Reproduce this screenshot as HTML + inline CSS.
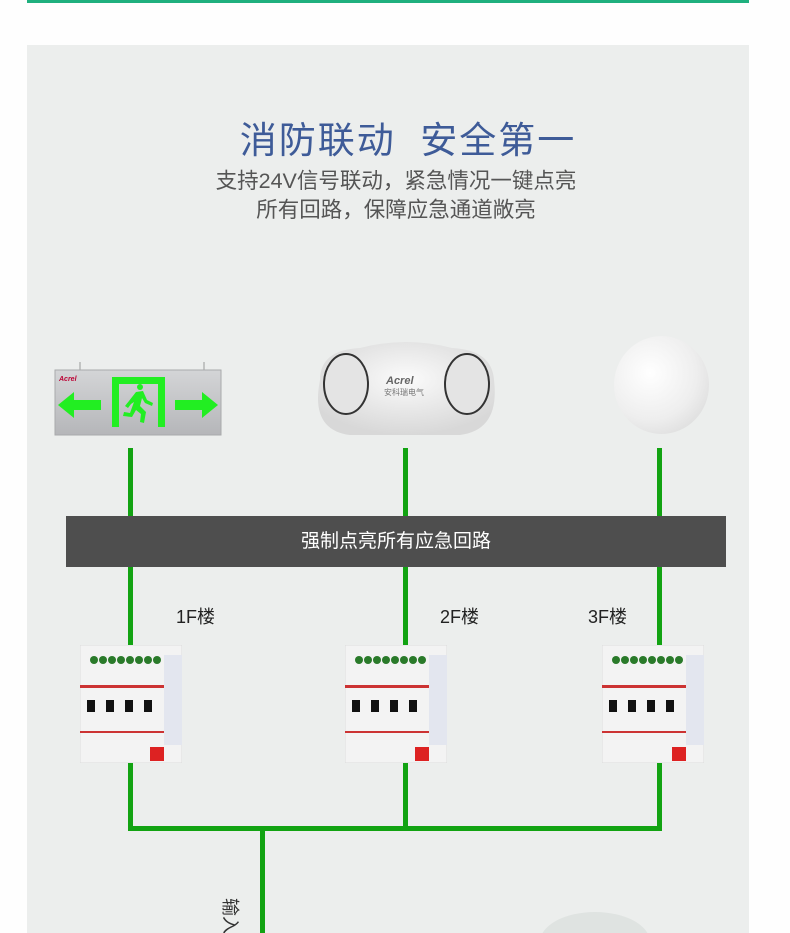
<!DOCTYPE html>
<html><head><meta charset="utf-8"><style>
*{margin:0;padding:0;box-sizing:border-box}
html,body{width:790px;height:933px;overflow:hidden}
body{background:#fefefe;position:relative;font-family:"Liberation Sans","Noto Sans CJK SC",sans-serif}
.a{position:absolute}
.g{position:absolute;background:#12a312}
.dev{position:absolute;width:102px;height:118px}
.lbl{position:absolute;font-size:18px;color:#222}
</style></head><body>
<div class="a" style="left:27px;top:0;width:722px;height:3px;background:#1fb07e"></div>
<div class="a" style="left:27px;top:45px;width:722px;height:888px;background:#eceeed"></div>
<div class="a" style="left:0;top:110px;width:816px;text-align:center;font-size:37px;color:#3e5b98;letter-spacing:2px;white-space:pre">消防联动  安全第一</div>
<div class="a" style="left:0;top:167px;width:792px;text-align:center;font-size:21.5px;color:#555;line-height:29px">支持24V信号联动，紧急情况一键点亮<br>所有回路，保障应急通道敞亮</div>

<!-- exit sign -->
<svg class="a" style="left:54px;top:360px" width="170" height="78">
<line x1="26" y1="2" x2="26" y2="10" stroke="#999"/><line x1="150" y1="2" x2="150" y2="10" stroke="#999"/>
<defs><linearGradient id="sg" x1="0" y1="0" x2="0" y2="1"><stop offset="0" stop-color="#d4d5d7"/><stop offset="1" stop-color="#b5b6b9"/></linearGradient></defs>
<rect x="1" y="10" width="166" height="65" fill="url(#sg)" stroke="#a9aaac"/>
<text x="5" y="21" font-size="7" fill="#b03" font-style="italic" font-weight="bold" font-family="Liberation Sans">Acrel</text>
<path d="M58 17 H111 V67 H104 V24 H65 V67 H58 Z" fill="#22ee22"/>
<circle cx="86" cy="27" r="3" fill="#22ee22"/>
<path d="M82 32 L89 31 L93 40 L99 43 L98 46 L91 43 L88 38 L86 46 L92 52 L90 63 L86 62 L87 54 L82 50 L78 57 L69 56 L70 52 L76 53 L80 42 L77 44 L74 48 L71 46 Z" fill="#22ee22"/>
<path d="M4 45 L20 32 V40 H47 V50 H20 V58 Z" fill="#22ee22"/>
<path d="M164 45 L148 32 V40 H121 V50 H148 V58 Z" fill="#22ee22"/>
</svg>

<!-- twin lamp -->
<svg class="a" style="left:310px;top:340px" width="192" height="100">
<defs><radialGradient id="lg" cx="0.5" cy="0.4" r="0.6"><stop offset="0" stop-color="#fbfbfb"/><stop offset="1" stop-color="#d8d8d8"/></radialGradient></defs>
<path d="M10 40 Q10 10 50 8 Q96 -4 142 8 Q182 10 184 40 Q190 90 150 95 H40 Q0 90 10 40 Z" fill="url(#lg)"/>
<ellipse cx="36" cy="44" rx="22" ry="30" fill="#e4e4e4" stroke="#333" stroke-width="2"/>
<ellipse cx="157" cy="44" rx="22" ry="30" fill="#e4e4e4" stroke="#333" stroke-width="2"/>
<text x="76" y="44" font-size="11" fill="#666" font-style="italic" font-weight="bold" font-family="Liberation Sans">Acrel</text>
<text x="74" y="55" font-size="8" fill="#777" font-family="Noto Sans CJK SC">安科瑞电气</text>
</svg>

<!-- dome -->
<div class="a" style="left:614px;top:336px;width:95px;height:98px;border-radius:50%;background:radial-gradient(circle at 38% 38%,#fff,#eee 55%,#d2d2d2)"></div>

<!-- green lines -->
<div class="g" style="left:128px;top:448px;width:5px;height:68px"></div>
<div class="g" style="left:403px;top:448px;width:5px;height:68px"></div>
<div class="g" style="left:657px;top:448px;width:5px;height:68px"></div>
<div class="a" style="left:66px;top:516px;width:660px;height:51px;background:#4e4e4e;color:#fff;font-size:19px;text-align:center;line-height:51px">强制点亮所有应急回路</div>
<div class="g" style="left:128px;top:567px;width:5px;height:80px"></div>
<div class="g" style="left:403px;top:567px;width:5px;height:80px"></div>
<div class="g" style="left:657px;top:567px;width:5px;height:80px"></div>
<div class="lbl" style="left:176px;top:603px">1F楼</div>
<div class="lbl" style="left:440px;top:603px">2F楼</div>
<div class="lbl" style="left:588px;top:603px">3F楼</div>

<!-- devices -->
<div class="dev" style="left:80px;top:645px">
<svg width="102" height="118"><rect x="0" y="0" width="102" height="118" fill="#f3f3f3" stroke="#ddd"/><rect x="84" y="10" width="18" height="90" fill="#e3e6ef"/>
<g fill="#2a7a2a"><circle cx="14" cy="15" r="4"/><circle cx="23" cy="15" r="4"/><circle cx="32" cy="15" r="4"/><circle cx="41" cy="15" r="4"/><circle cx="50" cy="15" r="4"/><circle cx="59" cy="15" r="4"/><circle cx="68" cy="15" r="4"/><circle cx="77" cy="15" r="4"/></g>
<rect x="0" y="40" width="84" height="3" fill="#c33"/><g fill="#111"><rect x="7" y="55" width="8" height="12"/><rect x="26" y="55" width="8" height="12"/><rect x="45" y="55" width="8" height="12"/><rect x="64" y="55" width="8" height="12"/></g>
<rect x="0" y="86" width="84" height="2" fill="#c33"/><rect x="70" y="102" width="14" height="14" fill="#d22"/></svg></div>
<div class="dev" style="left:345px;top:645px">
<svg width="102" height="118"><rect x="0" y="0" width="102" height="118" fill="#f3f3f3" stroke="#ddd"/><rect x="84" y="10" width="18" height="90" fill="#e3e6ef"/>
<g fill="#2a7a2a"><circle cx="14" cy="15" r="4"/><circle cx="23" cy="15" r="4"/><circle cx="32" cy="15" r="4"/><circle cx="41" cy="15" r="4"/><circle cx="50" cy="15" r="4"/><circle cx="59" cy="15" r="4"/><circle cx="68" cy="15" r="4"/><circle cx="77" cy="15" r="4"/></g>
<rect x="0" y="40" width="84" height="3" fill="#c33"/><g fill="#111"><rect x="7" y="55" width="8" height="12"/><rect x="26" y="55" width="8" height="12"/><rect x="45" y="55" width="8" height="12"/><rect x="64" y="55" width="8" height="12"/></g>
<rect x="0" y="86" width="84" height="2" fill="#c33"/><rect x="70" y="102" width="14" height="14" fill="#d22"/></svg></div>
<div class="dev" style="left:602px;top:645px">
<svg width="102" height="118"><rect x="0" y="0" width="102" height="118" fill="#f3f3f3" stroke="#ddd"/><rect x="84" y="10" width="18" height="90" fill="#e3e6ef"/>
<g fill="#2a7a2a"><circle cx="14" cy="15" r="4"/><circle cx="23" cy="15" r="4"/><circle cx="32" cy="15" r="4"/><circle cx="41" cy="15" r="4"/><circle cx="50" cy="15" r="4"/><circle cx="59" cy="15" r="4"/><circle cx="68" cy="15" r="4"/><circle cx="77" cy="15" r="4"/></g>
<rect x="0" y="40" width="84" height="3" fill="#c33"/><g fill="#111"><rect x="7" y="55" width="8" height="12"/><rect x="26" y="55" width="8" height="12"/><rect x="45" y="55" width="8" height="12"/><rect x="64" y="55" width="8" height="12"/></g>
<rect x="0" y="86" width="84" height="2" fill="#c33"/><rect x="70" y="102" width="14" height="14" fill="#d22"/></svg></div>

<div class="g" style="left:128px;top:763px;width:5px;height:68px"></div>
<div class="g" style="left:403px;top:763px;width:5px;height:68px"></div>
<div class="g" style="left:657px;top:763px;width:5px;height:68px"></div>
<div class="g" style="left:128px;top:826px;width:534px;height:5px"></div>
<div class="g" style="left:260px;top:826px;width:5px;height:110px"></div>
<div class="a" style="left:213px;top:903px;font-size:18px;color:#333;transform:rotate(90deg);transform-origin:center;white-space:nowrap">输入</div>
<div class="a" style="left:540px;top:912px;width:110px;height:60px;border-radius:50%;background:#dfe3e1"></div>
</body></html>
